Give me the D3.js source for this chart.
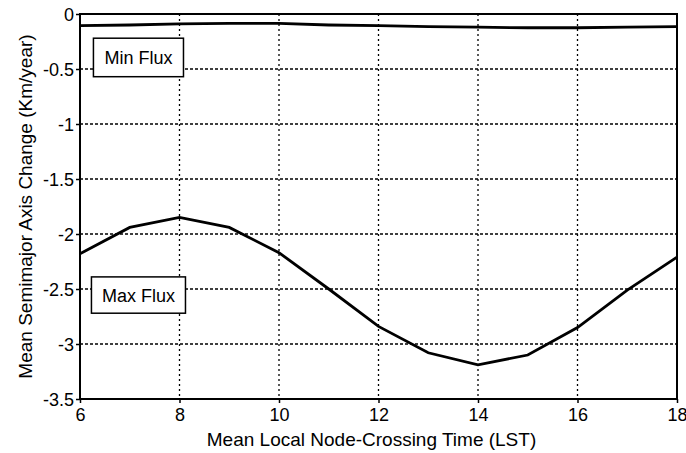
<!DOCTYPE html>
<html>
<head>
<meta charset="utf-8">
<script src="https://cdn.jsdelivr.net/npm/d3@7"></script>
<style>
  body { margin: 0; background: #fff; }
  text { font-family: "Liberation Sans", Arial, sans-serif; fill: #000; }
</style>
</head>
<body>
<div id="chart-area"></div>
<script>
// local node-crossing hours
var hours = [6, 7, 8, 9, 10, 11, 12, 13, 14, 15, 16, 17, 18];
var minFlux = [-0.105, -0.1, -0.09, -0.085, -0.085, -0.1, -0.105, -0.115, -0.12, -0.125, -0.125, -0.12, -0.115];
var maxFlux = [-2.18, -1.94, -1.85, -1.94, -2.17, -2.5, -2.84, -3.08, -3.19, -3.1, -2.85, -2.51, -2.21];
var xTicks = [6, 8, 10, 12, 14, 16, 18];
var yTicks = [0, -0.5, -1, -1.5, -2, -2.5, -3, -3.5];

var margin = {top: 14, right: 9, bottom: 54, left: 80};
var width = 686 - margin.left - margin.right;
var height = 453 - margin.top - margin.bottom;

var svg = d3.select('#chart-area')
    .append('svg')
        .attr('width', 686)
        .attr('height', 453);

var g = svg.append("g")
    .attr("transform", "translate(" + margin.left + ", " + margin.top + ")");

var x = d3.scaleLinear().domain([6, 18]).range([0, width]);
var y = d3.scaleLinear().domain([0, -3.5]).range([0, height]);

// grid
g.selectAll(".vgrid").data(xTicks.slice(1, -1)).enter().append("line")
    .attr("x1", (d) => x(d)).attr("x2", (d) => x(d))
    .attr("y1", 0).attr("y2", height)
    .attr("stroke", "#000").attr("stroke-width", 1.3)
    .attr("stroke-dasharray", "2,3");
g.selectAll(".hgrid").data(yTicks.slice(1, -1)).enter().append("line")
    .attr("x1", 0).attr("x2", width)
    .attr("y1", (d) => y(d)).attr("y2", (d) => y(d))
    .attr("stroke", "#000").attr("stroke-width", 1.3)
    .attr("stroke-dasharray", "3,2");

// axes
var bottomAxis = d3.axisBottom(x).tickValues(xTicks).tickSize(4).tickFormat(d3.format("d"));
var leftAxis = d3.axisLeft(y).tickValues(yTicks).tickSize(4).tickFormat((d) => d === 0 ? "0" : d3.format("")(d).replace("−", "-"));

var xAxisGroup = g.append("g")
    .attr("transform", "translate(0, " + height + ")")
    .call(bottomAxis);
var yAxisGroup = g.append("g").call(leftAxis);

[xAxisGroup, yAxisGroup].forEach((ax) => {
    ax.select(".domain").remove();
    ax.selectAll("line").attr("stroke", "#000").attr("stroke-width", 1.5);
    ax.selectAll("text").attr("font-size", "18px").style("font-family", "Liberation Sans, Arial, sans-serif");
});
xAxisGroup.selectAll("text").attr("dy", "0.85em");
yAxisGroup.selectAll("text").attr("dx", "1px").attr("dy", "0.36em");

// frame
g.append("rect")
    .attr("width", width).attr("height", height)
    .attr("fill", "none").attr("stroke", "#000").attr("stroke-width", 2);

var line = d3.line()
    .x((d, i) => x(hours[i]))
    .y((d) => y(d));

g.append("path").datum(minFlux)
    .attr("d", line).attr("fill", "none")
    .attr("stroke", "#000").attr("stroke-width", 2.8);
g.append("path").datum(maxFlux)
    .attr("d", line).attr("fill", "none")
    .attr("stroke", "#000").attr("stroke-width", 2.8);

// boxed series labels
function boxLabel(bx, by, bw, bh, label) {
    g.append("rect")
        .attr("x", bx).attr("y", by).attr("width", bw).attr("height", bh)
        .attr("fill", "#fff").attr("stroke", "#000").attr("stroke-width", 1.5);
    g.append("text")
        .attr("x", bx + bw / 2).attr("y", by + bh / 2)
        .attr("dy", "0.36em")
        .attr("text-anchor", "middle")
        .attr("font-size", "18px")
        .text(label);
}
boxLabel(x(6.27), y(-0.22), x(8.08) - x(6.27), y(-0.57) - y(-0.22), "Min Flux");
boxLabel(x(6.23), y(-2.39), x(8.12) - x(6.23), y(-2.72) - y(-2.39), "Max Flux");

// axis titles
g.append("text")
    .attr("x", width / 2 - 7)
    .attr("y", height + 47)
    .attr("text-anchor", "middle")
    .attr("font-size", "19px")
    .text("Mean Local Node-Crossing Time (LST)");

g.append("text")
    .attr("transform", "rotate(-90)")
    .attr("x", -(height / 2))
    .attr("y", -48)
    .attr("text-anchor", "middle")
    .attr("font-size", "19px")
    .text("Mean Semimajor Axis Change (Km/year)");
</script>
</body>
</html>
